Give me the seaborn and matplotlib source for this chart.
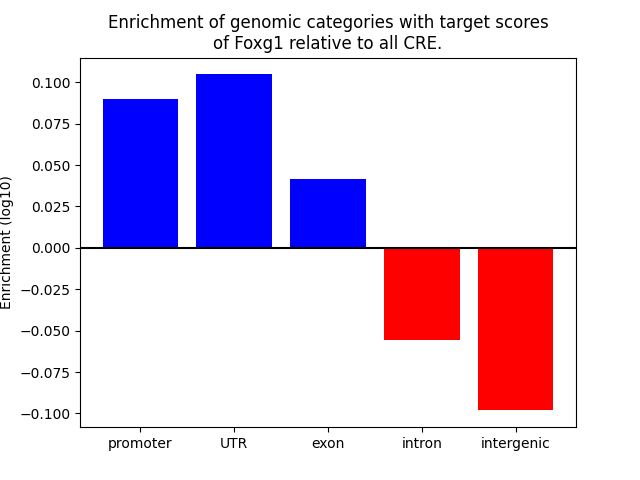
import matplotlib
matplotlib.use("Agg")
import matplotlib.pyplot as plt
import seaborn as sns

categories = ["promoter", "UTR", "exon", "intron", "intergenic"]
values = [0.0897, 0.1048, 0.0418, -0.0558, -0.0982]
colors = ["blue" if v > 0 else "red" for v in values]

fig, ax = plt.subplots(figsize=(6.4, 4.8), dpi=100)
sns.barplot(x=categories, y=values, hue=categories, palette=colors,
            saturation=1, legend=False, width=0.8, ax=ax)
ax.axhline(0, color="black", linewidth=1.5)
lo, hi = min(values), max(values)
pad = 0.05 * (hi - lo)
ax.set_ylim(lo - pad, hi + pad)
ax.set_xlim(-0.64, 4.64)
ax.set_xlabel("")
ax.set_ylabel("Enrichment (log10)")
ax.set_title("Enrichment of genomic categories with target scores\nof Foxg1 relative to all CRE.")
fig.savefig("out.png", dpi=100)
